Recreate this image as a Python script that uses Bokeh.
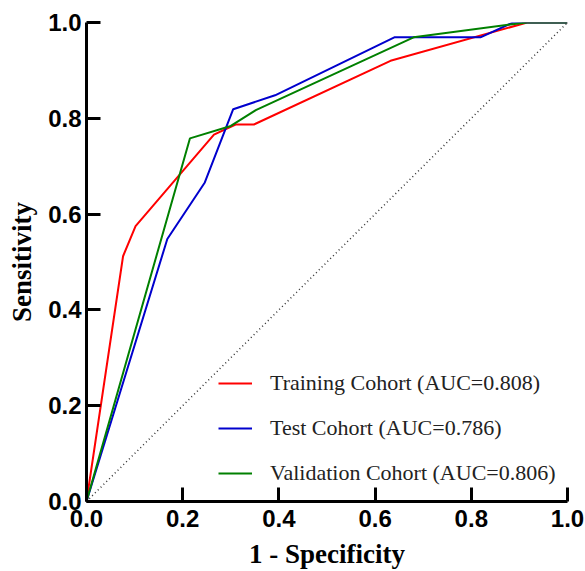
from bokeh.plotting import figure
from bokeh.models import Legend, LegendItem, FixedTicker, NumeralTickFormatter, Range1d
from bokeh.embed import file_html
from bokeh.resources import INLINE

# Data
train_fpr = [0, 0.076, 0.102, 0.265, 0.31, 0.348, 0.632, 0.916, 1.0]
train_tpr = [0, 0.512, 0.575, 0.766, 0.787, 0.787, 0.920, 1.0, 1.0]

test_fpr = [0, 0.168, 0.246, 0.305, 0.392, 0.640, 0.819, 0.887, 1.0]
test_tpr = [0, 0.548, 0.666, 0.819, 0.848, 0.969, 0.969, 1.0, 1.0]

val_fpr = [0, 0.215, 0.30, 0.352, 0.68, 0.881, 0.916, 1.0]
val_tpr = [0, 0.758, 0.784, 0.817, 0.969, 0.996, 1.0, 1.0]

ref_x = [0, 1]
ref_y = [0, 1]

ticks = [0.0, 0.2, 0.4, 0.6, 0.8, 1.0]
labels = ["Training Cohort (AUC=0.808)", "Test Cohort (AUC=0.786)", "Validation Cohort (AUC=0.806)"]
colors = ["#ff0000", "#0000cd", "#008000"]

p = figure(width=585, height=571, output_backend="svg", toolbar_location=None,
           x_range=Range1d(0, 1), y_range=Range1d(0, 1),
           min_border_left=86, min_border_right=18, min_border_top=22, min_border_bottom=70)
p.outline_line_color = None
p.xgrid.visible = False
p.ygrid.visible = False

p.line(ref_x, ref_y, line_color="#333333", line_width=1.5, line_dash="1 3")
r1 = p.line(train_fpr, train_tpr, line_color=colors[0], line_width=2)
r2 = p.line(test_fpr, test_tpr, line_color=colors[1], line_width=2)
r3 = p.line(val_fpr, val_tpr, line_color=colors[2], line_width=2)

for ax in (p.xaxis[0], p.yaxis[0]):
    ax.ticker = FixedTicker(ticks=ticks)
    ax.formatter = NumeralTickFormatter(format="0.0")
    ax.axis_line_width = 3
    ax.axis_line_color = "black"
    ax.major_tick_line_width = 3
    ax.major_tick_line_color = "black"
    ax.major_tick_in = 14
    ax.major_tick_out = 0
    ax.minor_tick_line_color = None
    ax.major_label_text_font = "Liberation Sans"
    ax.major_label_text_font_style = "bold"
    ax.major_label_text_font_size = "24px"
    ax.major_label_text_color = "black"
    ax.axis_label_text_font = "Liberation Serif"
    ax.axis_label_text_font_style = "bold"
    ax.axis_label_text_font_size = "27px"
    ax.axis_label_text_color = "black"

p.xaxis[0].axis_label = "1 - Specificity"
p.yaxis[0].axis_label = "Sensitivity"
p.xaxis[0].major_label_standoff = 8
p.xaxis[0].axis_label_standoff = 9
p.yaxis[0].major_label_standoff = 5
p.yaxis[0].axis_label_standoff = 8

legend = Legend(items=[LegendItem(label=labels[0], renderers=[r1]),
                       LegendItem(label=labels[1], renderers=[r2]),
                       LegendItem(label=labels[2], renderers=[r3])],
                location=(132, 15))
legend.border_line_alpha = 0
legend.background_fill_alpha = 0
legend.padding = 0
legend.margin = 0
legend.glyph_width = 34
legend.glyph_height = 20
legend.label_standoff = 18
legend.spacing = 19
legend.label_text_font = "Liberation Serif"
legend.label_text_font_size = "22px"
legend.label_text_color = "#222222"
p.add_layout(legend)

open("out.html", "w").write(file_html(p, INLINE))
